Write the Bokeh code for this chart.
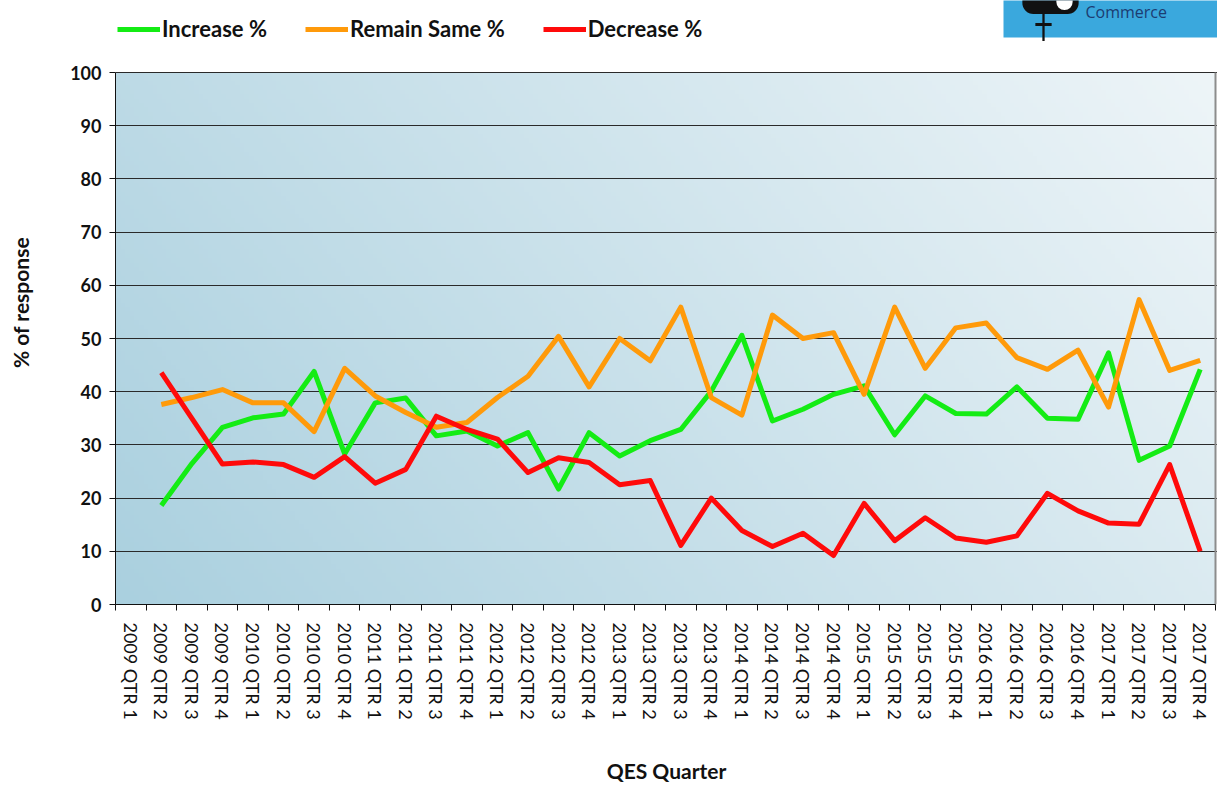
import math
import numpy as np
from bokeh.plotting import figure
from bokeh.models import Range1d, FixedTicker, Legend, LegendItem, Label
from bokeh.embed import file_html
from bokeh.resources import INLINE

# Survey quarters on the category axis
quarters = [
    "2009 QTR 1", "2009 QTR 2", "2009 QTR 3", "2009 QTR 4",
    "2010 QTR 1", "2010 QTR 2", "2010 QTR 3", "2010 QTR 4",
    "2011 QTR 1", "2011 QTR 2", "2011 QTR 3", "2011 QTR 4",
    "2012 QTR 1", "2012 QTR 2", "2012 QTR 3", "2012 QTR 4",
    "2013 QTR 1", "2013 QTR 2", "2013 QTR 3", "2013 QTR 4",
    "2014 QTR 1", "2014 QTR 2", "2014 QTR 3", "2014 QTR 4",
    "2015 QTR 1", "2015 QTR 2", "2015 QTR 3", "2015 QTR 4",
    "2016 QTR 1", "2016 QTR 2", "2016 QTR 3", "2016 QTR 4",
    "2017 QTR 1", "2017 QTR 2", "2017 QTR 3", "2017 QTR 4",
]

# Responses are recorded from 2009 QTR 2 onwards
first_quarter = "2009 QTR 2"

increase_pct = [18.6, 26.5, 33.3, 35.1, 35.8, 43.8, 28.3, 37.9, 38.8, 31.7,
                32.6, 29.8, 32.3, 21.7, 32.3, 27.9, 30.8, 32.9, 40.1, 50.6,
                34.5, 36.7, 39.5, 41.1, 31.9, 39.2, 35.9, 35.8, 40.9, 35.0,
                34.8, 47.3, 27.1, 29.8, 44.2]
remain_same_pct = [37.6, 38.9, 40.4, 37.9, 37.9, 32.5, 44.4, 39.2, 36.1, 33.3,
                   34.2, 38.9, 42.9, 50.4, 40.9, 50.0, 45.8, 55.9, 38.9, 35.6,
                   54.4, 50.0, 51.1, 39.5, 55.9, 44.4, 52.0, 52.9, 46.4, 44.2,
                   47.8, 37.1, 57.3, 44.0, 45.9]
decrease_pct = [43.6, 35.0, 26.4, 26.8, 26.3, 23.9, 27.8, 22.8, 25.4, 35.4,
                32.9, 31.1, 24.8, 27.6, 26.7, 22.5, 23.3, 11.1, 20.0, 13.9,
                10.9, 13.4, 9.2, 19.0, 12.0, 16.3, 12.5, 11.7, 12.9, 20.9,
                17.6, 15.3, 15.1, 26.3, 10.0]

series_names = ["Increase %", "Remain Same %", "Decrease %"]
series_values = [increase_pct, remain_same_pct, decrease_pct]
series_colors = ["#14ec14", "#ff9a0a", "#ff0a0a"]

y_ticks = list(range(0, 101, 10))
Y_MAX = 100

FONT = "Lato"
INK = "#111111"

# Canvas layout: the frame reaches the top edge so the legend and logo strip
# can be drawn inside it; the value axis itself stops at Y_MAX.
W, H = 1217, 785
AREA_L, AREA_T, AREA_R, AREA_B = 115, 72, 1215, 604   # bounds of the value area

n = len(quarters)
px_per_cat = (AREA_R - AREA_L) / n
px_per_unit = (AREA_B - AREA_T) / Y_MAX
x_lo = -0.5
x_hi = n - 0.5 + (W - AREA_R) / px_per_cat
y_hi = AREA_B / px_per_unit

p = figure(width=W, height=H, x_range=Range1d(x_lo, x_hi), y_range=Range1d(0, y_hi),
           toolbar_location=None, output_backend="svg",
           min_border_left=AREA_L, min_border_right=0,
           min_border_top=0, min_border_bottom=H - AREA_B)
p.background_fill_color = "white"
p.border_fill_color = "white"
p.outline_line_color = None

# soft blue gradient behind the value area
ny, nx = 120, 240
u = np.linspace(0, 1, nx)[None, :]
v = np.linspace(0, 1, ny)[:, None]
t = np.clip(0.72 * u + 0.28 * v, 0, 1)
c0 = np.array([170, 208, 223], dtype=float)
c1 = np.array([238, 245, 248], dtype=float)
rgb = c0[None, None, :] + (c1 - c0)[None, None, :] * t[:, :, None]
img = np.zeros((ny, nx), dtype=np.uint32)
view = img.view(dtype=np.uint8).reshape((ny, nx, 4))
for k in range(3):
    view[:, :, k] = rgb[:, :, k].astype(np.uint8)
view[:, :, 3] = 255
p.image_rgba(image=[img], x=-0.5, y=0, dw=n, dh=Y_MAX, level="image")

# right-hand border of the value area
p.segment(x0=[n - 0.5], y0=[0], x1=[n - 0.5], y1=[Y_MAX], line_color="#8c8c8c", line_width=2)

start = quarters.index(first_quarter)
xs = list(range(start, start + len(increase_pct)))
renderers = []
for name, vals, col in zip(series_names, series_values, series_colors):
    r = p.line(xs, vals, line_color=col, line_width=5, line_join="round")
    renderers.append(r)

# legend row across the top strip (screen offsets from the frame's bottom-left)
legend = Legend(items=[LegendItem(label=nm, renderers=[r]) for nm, r in zip(series_names, renderers)],
                orientation="horizontal", location=(2, AREA_B - 42))
legend.padding = 0
legend.margin = 0
legend.spacing = 38
legend.glyph_width = 43
legend.glyph_height = 26
legend.label_height = 26
legend.label_standoff = 2
legend.label_text_font = FONT
legend.label_text_font_style = "bold"
legend.label_text_font_size = "22px"
legend.label_text_color = INK
legend.label_text_baseline = "middle"
legend.border_line_color = None
legend.background_fill_alpha = 0
p.add_layout(legend)


def box(cx, cy, w, h, color, radius=0):
    """A filled block centred on canvas point (cx, cy)."""
    return Label(x=cx - AREA_L, y=AREA_B - cy, x_units="screen", y_units="screen",
                 text=" ", text_font_size="1px", text_align="center", text_baseline="middle",
                 background_fill_color=color, border_line_color=None, border_radius=radius,
                 padding=dict(left=w // 2, right=w // 2, top=h // 2, bottom=h // 2))


# logo block in the top-right corner: blue panel anchored at its bottom-left corner
p.add_layout(Label(x=1003 - AREA_L, y=AREA_B - 37, x_units="screen", y_units="screen",
                   text="Commerce", text_font="Open Sans", text_font_size="16px",
                   text_color="#1c3c72", text_align="left", text_baseline="bottom",
                   background_fill_color="#3aa8dd", border_line_color=None,
                   padding=dict(left=82, right=80, top=14, bottom=15)))
p.add_layout(box(1050, 1, 56, 24, INK, radius=11))
p.add_layout(box(1064, 1, 16, 16, "#ffffff", radius=8))
p.add_layout(box(1043, 25, 3, 30, INK))
p.add_layout(box(1043, 24, 16, 3, INK))

# x axis: labels centred on categories, tick marks between them
p.xaxis.ticker = FixedTicker(ticks=list(range(n)), minor_ticks=[i - 0.5 for i in range(n + 1)])
p.xaxis.major_label_overrides = {i: q for i, q in enumerate(quarters)}
p.xaxis.major_label_orientation = -math.pi / 2
p.xaxis.bounds = (-0.5, n - 0.5)
p.xaxis.major_tick_out = 0
p.xaxis.major_tick_in = 0
p.xaxis.minor_tick_out = 6
p.xaxis.minor_tick_in = 0
p.xaxis.minor_tick_line_color = INK
p.xaxis.major_label_standoff = 12
p.xaxis.major_label_text_font = FONT
p.xaxis.major_label_text_font_size = "18px"
p.xaxis.major_label_text_color = INK
p.xaxis.axis_line_color = INK
p.xaxis.axis_label = "QES Quarter"
p.xaxis.axis_label_text_font = FONT
p.xaxis.axis_label_text_font_style = "bold"
p.xaxis.axis_label_text_font_size = "21px"
p.xaxis.axis_label_text_color = INK
p.xaxis.axis_label_standoff = 35

p.yaxis.ticker = FixedTicker(ticks=y_ticks)
p.yaxis.bounds = (0, Y_MAX)
p.yaxis.major_tick_out = 6
p.yaxis.major_tick_in = 0
p.yaxis.minor_tick_line_color = None
p.yaxis.major_tick_line_color = INK
p.yaxis.axis_line_color = INK
p.yaxis.major_label_standoff = 8
p.yaxis.major_label_text_font = FONT
p.yaxis.major_label_text_font_style = "bold"
p.yaxis.major_label_text_font_size = "18px"
p.yaxis.major_label_text_color = INK
p.yaxis.axis_label = "% of response"
p.yaxis.axis_label_text_font = FONT
p.yaxis.axis_label_text_font_style = "bold"
p.yaxis.axis_label_text_font_size = "21px"
p.yaxis.axis_label_text_color = INK
p.yaxis.axis_label_standoff = 34

p.xgrid.visible = False
p.ygrid.ticker = FixedTicker(ticks=y_ticks)
p.ygrid.bounds = (-0.5, n - 0.5)
p.ygrid.grid_line_color = "#2a2a2a"
p.ygrid.grid_line_width = 1

open("out.html", "w").write(file_html(p, INLINE))
